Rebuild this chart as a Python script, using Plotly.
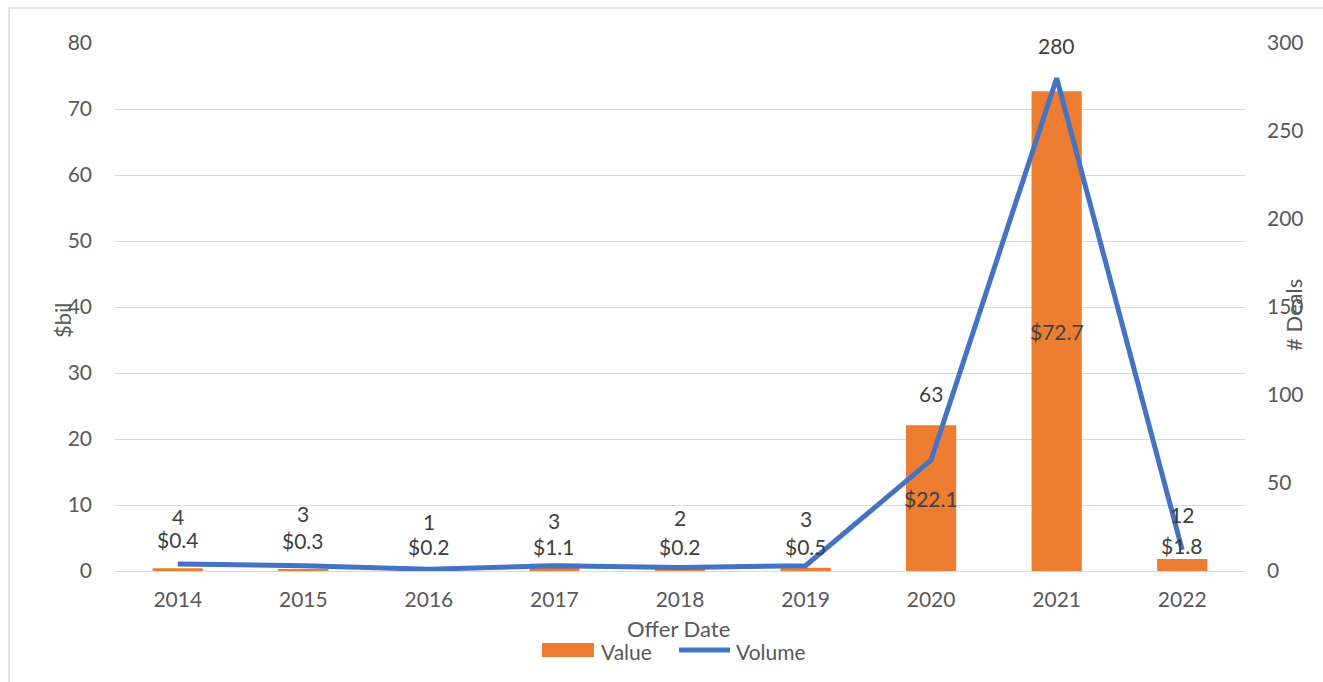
import plotly.graph_objects as go

years = [2014, 2015, 2016, 2017, 2018, 2019, 2020, 2021, 2022]
year_labels = ["2014", "2015", "2016", "2017", "2018", "2019", "2020", "2021", "2022"]
value_bil = [0.4, 0.3, 0.2, 1.1, 0.2, 0.5, 22.1, 72.7, 1.8]
volume = [4, 3, 1, 3, 2, 3, 63, 280, 12]

# label pixel shifts (styling only)
bar_label_shift = [30, 30, 24, 21, 24, 23, 0, 0, 20]
line_label_shift = [47, 52, 48, 45, 50, 47, 67, 33, 35]

ORANGE = "#ED7D31"
BLUE = "#4472C4"
GRID = "#D9D9D9"
TICK = "#595959"
LABEL = "#404040"
FONT = "Lato"

L, T, W, H = 115, 43, 1130, 528


def px(xp):
    return (xp - L) / W


def py(yp):
    return (T + H - yp) / H


fig = go.Figure()
fig.add_trace(go.Bar(
    x=years, y=value_bil, name="Value", marker=dict(color=ORANGE, line=dict(width=0)),
    width=0.4, yaxis="y",
))
fig.add_trace(go.Scatter(
    x=years, y=volume, name="Volume", mode="lines",
    line=dict(color=BLUE, width=5), yaxis="y2",
))

annotations = []
for yr, v, s in zip(years, value_bil, bar_label_shift):
    annotations.append(dict(x=yr, y=v / 2, xref="x", yref="y", text=f"${v:.1f}",
                            showarrow=False, yshift=s, font=dict(size=21, color=LABEL, family=FONT)))
for yr, v, s in zip(years, volume, line_label_shift):
    annotations.append(dict(x=yr, y=v, xref="x", yref="y2", text=str(v),
                            showarrow=False, yshift=s, font=dict(size=21, color=LABEL, family=FONT)))

annotations += [
    dict(x=px(62), y=py(320), xref="paper", yref="paper", text="$bil", textangle=-90,
         showarrow=False, xanchor="center", yanchor="middle", font=dict(size=22, color=TICK, family=FONT)),
    dict(x=px(1293), y=py(315), xref="paper", yref="paper", text="# Deals", textangle=-90,
         showarrow=False, xanchor="center", yanchor="middle", font=dict(size=22, color=TICK, family=FONT)),
    dict(x=px(678), y=py(628), xref="paper", yref="paper", text="Offer Date",
         showarrow=False, xanchor="center", yanchor="middle", font=dict(size=22, color=TICK, family=FONT)),
    dict(x=px(599), y=py(651), xref="paper", yref="paper", text="Value",
         showarrow=False, xanchor="left", yanchor="middle", font=dict(size=21, color=TICK, family=FONT)),
    dict(x=px(734), y=py(651), xref="paper", yref="paper", text="Volume",
         showarrow=False, xanchor="left", yanchor="middle", font=dict(size=21, color=TICK, family=FONT)),
]

shapes = [
    dict(type="rect", xref="paper", yref="paper",
         x0=px(9), x1=px(1340), y0=py(700), y1=py(8),
         line=dict(color=GRID, width=1.5), fillcolor="rgba(0,0,0,0)", layer="below"),
    # legend keys
    dict(type="rect", xref="paper", yref="paper",
         x0=px(542), x1=px(594), y0=py(657), y1=py(643),
         line=dict(width=0), fillcolor=ORANGE),
    dict(type="line", xref="paper", yref="paper",
         x0=px(679), x1=px(730), y0=py(650), y1=py(650),
         line=dict(color=BLUE, width=5)),
]

fig.update_layout(
    width=1323, height=682,
    margin=dict(l=L, r=1323 - L - W, t=T, b=682 - T - H),
    paper_bgcolor="white", plot_bgcolor="white",
    font=dict(family=FONT, size=21, color=TICK),
    showlegend=False,
    xaxis=dict(range=[2013.5, 2022.5], tickvals=years, ticktext=year_labels,
               showgrid=False, showline=False, zeroline=False,
               ticks="", tickfont=dict(size=21, color=TICK), ticklabelstandoff=14),
    yaxis=dict(range=[0, 80], dtick=10, showgrid=True, gridcolor=GRID, gridwidth=1.3,
               zeroline=True, zerolinecolor=GRID, zerolinewidth=1.3, showline=False,
               ticks="", tickfont=dict(size=21, color=TICK), ticklabelstandoff=22),
    yaxis2=dict(range=[0, 300], dtick=50, overlaying="y", side="right", showgrid=False,
                zeroline=False, showline=False, ticks="",
                tickfont=dict(size=21, color=TICK), ticklabelstandoff=21),
    annotations=annotations,
    shapes=shapes,
)

fig.write_html("out.html")
